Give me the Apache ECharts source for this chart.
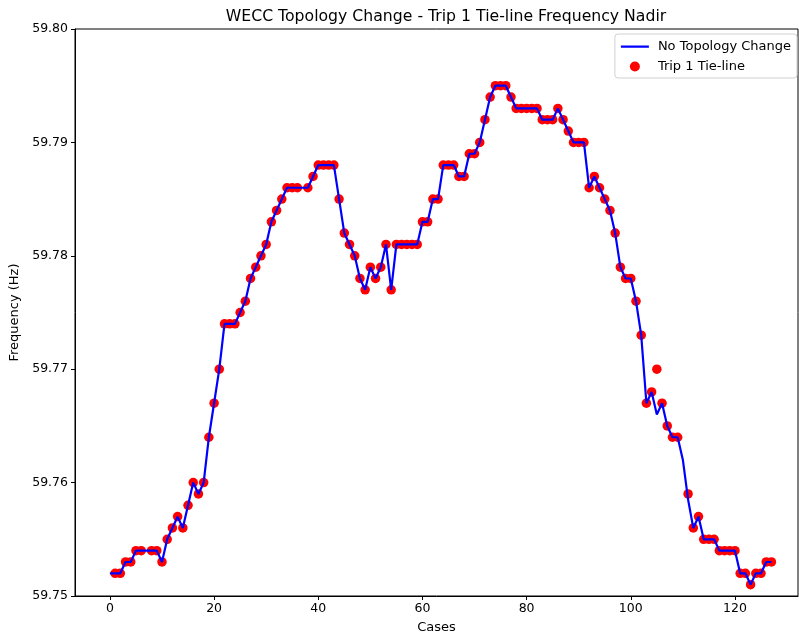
<!DOCTYPE html>
<html>
<head>
<meta charset="utf-8">
<script src="https://cdn.jsdelivr.net/npm/echarts@6/dist/echarts.min.js"></script>
<style>html,body{margin:0;padding:0;background:#fff;}#chart{width:799px;height:638px;}</style>
</head>
<body>
<div id="chart"></div>
<script>
// Case index 0..127
const cases = Array.from({length: 128}, (_, i) => i);

// No Topology Change (Hz)
const noTopology = [
  59.752, 59.752, 59.752, 59.753, 59.753, 59.754, 59.754, 59.754, 59.754, 59.754,
  59.753, 59.755, 59.756, 59.757, 59.756, 59.758, 59.760, 59.759, 59.760, 59.764,
  59.767, 59.770, 59.774, 59.774, 59.774, 59.775, 59.776, 59.778, 59.779, 59.780,
  59.781, 59.783, 59.784, 59.785, 59.786, 59.786, 59.786, 59.786, 59.786, 59.787,
  59.788, 59.788, 59.788, 59.788, 59.785, 59.782, 59.781, 59.780, 59.778, 59.777,
  59.779, 59.778, 59.779, 59.781, 59.777, 59.781, 59.781, 59.781, 59.781, 59.781,
  59.783, 59.783, 59.785, 59.785, 59.788, 59.788, 59.788, 59.787, 59.787, 59.789,
  59.789, 59.790, 59.792, 59.794, 59.795, 59.795, 59.795, 59.794, 59.793, 59.793,
  59.793, 59.793, 59.793, 59.792, 59.792, 59.792, 59.793, 59.792, 59.791, 59.790,
  59.790, 59.790, 59.786, 59.787, 59.786, 59.785, 59.784, 59.782, 59.779, 59.778,
  59.778, 59.776, 59.773, 59.767, 59.768, 59.766, 59.767, 59.765, 59.764, 59.764,
  59.762, 59.7585, 59.756, 59.757, 59.755, 59.755, 59.755, 59.754, 59.754, 59.754,
  59.754, 59.752, 59.752, 59.751, 59.752, 59.752, 59.753, 59.753
];

// Trip 1 Tie-line (Hz); null = no marker
const trip1 = [
  null,   59.752, 59.752, 59.753, 59.753, 59.754, 59.754, null,   59.754, 59.754,
  59.753, 59.755, 59.756, 59.757, 59.756, 59.758, 59.760, 59.759, 59.760, 59.764,
  59.767, 59.770, 59.774, 59.774, 59.774, 59.775, 59.776, 59.778, 59.779, 59.780,
  59.781, 59.783, 59.784, 59.785, 59.786, 59.786, 59.786, null,   59.786, 59.787,
  59.788, 59.788, 59.788, 59.788, 59.785, 59.782, 59.781, 59.780, 59.778, 59.777,
  59.779, 59.778, 59.779, 59.781, 59.777, 59.781, 59.781, 59.781, 59.781, 59.781,
  59.783, 59.783, 59.785, 59.785, 59.788, 59.788, 59.788, 59.787, 59.787, 59.789,
  59.789, 59.790, 59.792, 59.794, 59.795, 59.795, 59.795, 59.794, 59.793, 59.793,
  59.793, 59.793, 59.793, 59.792, 59.792, 59.792, 59.793, 59.792, 59.791, 59.790,
  59.790, 59.790, 59.786, 59.787, 59.786, 59.785, 59.784, 59.782, 59.779, 59.778,
  59.778, 59.776, 59.773, 59.767, 59.768, 59.770, 59.767, 59.765, 59.764, 59.764,
  null,   59.759, 59.756, 59.757, 59.755, 59.755, 59.755, 59.754, 59.754, 59.754,
  59.754, 59.752, 59.752, 59.751, 59.752, 59.752, 59.753, 59.753
];

const xTicks = [0, 20, 40, 60, 80, 100, 120];
const yTicks = [59.75, 59.76, 59.77, 59.78, 59.79, 59.80];

const FONT = 'DejaVu Sans';
const chart = echarts.init(document.getElementById('chart'), null, {renderer: 'canvas'});

const lineData = cases.map((c, i) => [c, noTopology[i]]);
const scatterData = cases.map((c, i) => trip1[i] == null ? null : [c, trip1[i]]).filter(d => d);

chart.setOption({
  animation: false,
  backgroundColor: '#fff',
  textStyle: {fontFamily: FONT},
  title: {
    text: 'WECC Topology Change - Trip 1 Tie-line Frequency Nadir',
    left: 441, textAlign: 'center', top: 4,
    textStyle: {fontFamily: FONT, fontSize: 15.7, fontWeight: 'normal', color: '#000'}
  },
  legend: {
    orient: 'vertical', right: 2, top: 34,
    itemWidth: 28, itemHeight: 10, itemGap: 7,
    padding: [6, 6, 5, 6],
    borderColor: '#d0d0d0', borderWidth: 1, borderRadius: 3,
    backgroundColor: '#fff',
    textStyle: {fontFamily: FONT, fontSize: 13, color: '#000', padding: [0, 0, 0, 4]},
    data: [
      {name: 'No Topology Change', icon: 'path://M0,0 L0.001,0 Z M0,4 L28,4 L28,6.2 L0,6.2 Z M0,10 L0.001,10 Z',
       itemStyle: {color: '#0000ff', borderWidth: 0}},
      {name: 'Trip 1 Tie-line', icon: 'circle', itemStyle: {color: '#ff0000'}}
    ]
  },
  grid: {
    left: 75, right: 1, top: 29, bottom: 42,
    containLabel: false, outerBoundsMode: 'none',
    show: true, borderColor: '#000', borderWidth: 1, backgroundColor: 'transparent'
  },
  xAxis: {
    type: 'value', min: -6.7, max: 132.1,
    name: 'Cases', nameLocation: 'middle', nameGap: 25,
    nameTextStyle: {fontFamily: FONT, fontSize: 13, color: '#000'},
    axisLine: {show: true, onZero: false, lineStyle: {color: '#000'}},
    axisTick: {show: true, customValues: xTicks, length: 4, lineStyle: {color: '#000'}},
    axisLabel: {customValues: xTicks, fontFamily: FONT, fontSize: 12.5, color: '#000', margin: 6},
    splitLine: {show: false}
  },
  yAxis: {
    type: 'value', min: 59.75, max: 59.80,
    name: 'Frequency (Hz)', nameLocation: 'middle', nameGap: 50, nameRotate: 90,
    nameTextStyle: {fontFamily: FONT, fontSize: 13, color: '#000'},
    axisLine: {show: true, onZero: false, lineStyle: {color: '#000'}},
    axisTick: {show: true, customValues: yTicks, length: 4, lineStyle: {color: '#000'}},
    axisLabel: {customValues: yTicks, fontFamily: FONT, fontSize: 12.5, color: '#000', margin: 7,
      formatter: v => v.toFixed(2)},
    splitLine: {show: false}
  },
  series: [
    {
      name: 'No Topology Change', type: 'line', data: lineData,
      symbol: 'none', showSymbol: false, z: 3,
      lineStyle: {color: '#0000ff', width: 2.2},
      itemStyle: {color: '#0000ff'}
    },
    {
      name: 'Trip 1 Tie-line', type: 'scatter', data: scatterData,
      symbol: 'circle', symbolSize: 9.5, z: 2,
      itemStyle: {color: '#ff0000', opacity: 1}
    }
  ]
});
</script>
</body>
</html>
